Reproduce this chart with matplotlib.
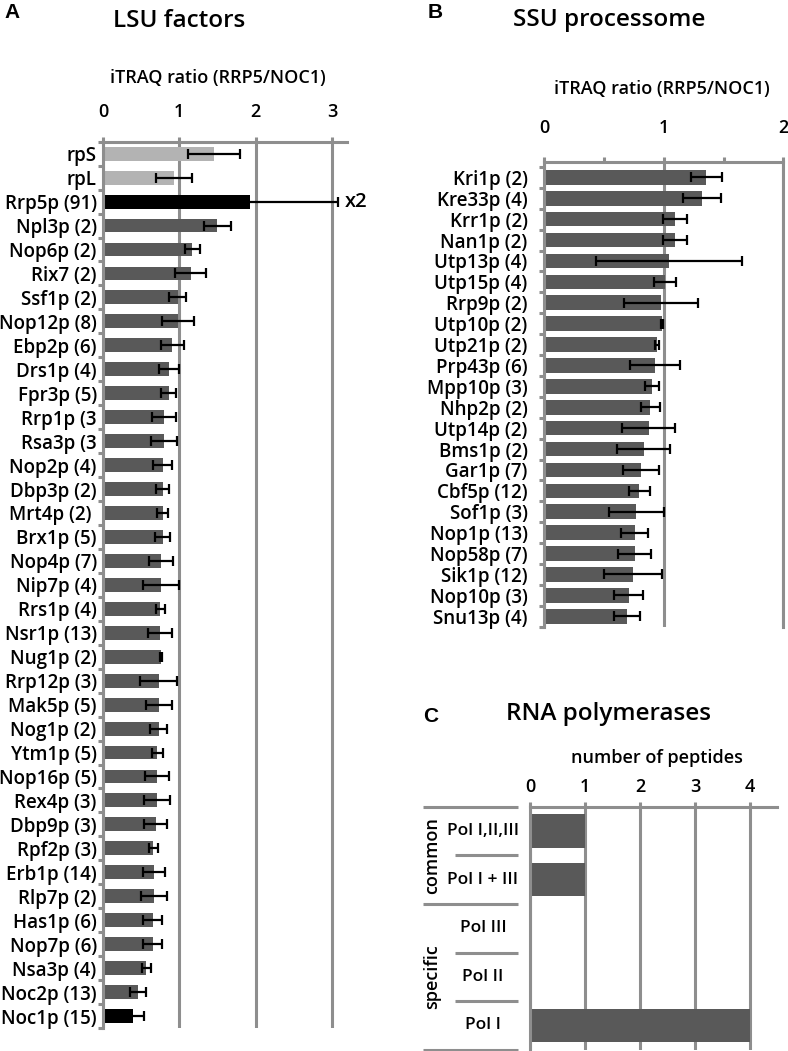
import matplotlib
matplotlib.use('Agg')
import matplotlib.pyplot as plt
import matplotlib.transforms as mtransforms

plt.rcParams['font.family'] = ['Open Sans', 'DejaVu Sans']
plt.rcParams['font.weight'] = 'semibold'

# ---------------- data ----------------
lsu_labels = ['rpS', 'rpL', 'Rrp5p (91)', 'Npl3p (2)', 'Nop6p (2)', 'Rix7 (2)', 'Ssf1p (2)',
              'Nop12p (8)', 'Ebp2p (6)', 'Drs1p (4)', 'Fpr3p (5)', 'Rrp1p (3', 'Rsa3p (3',
              'Nop2p (4)', 'Dbp3p (2)', 'Mrt4p (2) ', 'Brx1p (5)', 'Nop4p (7)', 'Nip7p (4)',
              'Rrs1p (4)', 'Nsr1p (13)', 'Nug1p (2)', 'Rrp12p (3)', 'Mak5p (5)', 'Nog1p (2)',
              'Ytm1p (5)', 'Nop16p (5)', 'Rex4p (3)', 'Dbp9p (3)', 'Rpf2p (3)', 'Erb1p (14)',
              'Rlp7p (2)', 'Has1p (6)', 'Nop7p (6)', 'Nsa3p (4)', 'Noc2p (13)', 'Noc1p (15)']
lsu_values = [1.45, 0.93, 1.93, 1.50, 1.17, 1.15, 0.98, 0.98, 0.91, 0.87, 0.86, 0.80, 0.80,
              0.78, 0.78, 0.78, 0.78, 0.76, 0.76, 0.75, 0.75, 0.76, 0.73, 0.73, 0.73, 0.71,
              0.71, 0.71, 0.69, 0.66, 0.67, 0.67, 0.65, 0.65, 0.57, 0.46, 0.39]
lsu_errors = [0.34, 0.23, 1.15, 0.18, 0.10, 0.20, 0.11, 0.21, 0.15, 0.13, 0.10, 0.16, 0.17,
              0.13, 0.09, 0.07, 0.10, 0.16, 0.24, 0.06, 0.16, 0.01, 0.24, 0.17, 0.11, 0.07,
              0.16, 0.17, 0.15, 0.06, 0.14, 0.17, 0.12, 0.12, 0.06, 0.10, 0.15]
lsu_reference = ['rpS', 'rpL']
lsu_baits = ['Rrp5p (91)', 'Noc1p (15)']
lsu_xticks = [0, 1, 2, 3]

ssu_labels = ['Kri1p (2)', 'Kre33p (4)', 'Krr1p (2)', 'Nan1p (2)', 'Utp13p (4)', 'Utp15p (4)',
              'Rrp9p (2)', 'Utp10p (2)', 'Utp21p (2)', 'Prp43p (6)', 'Mpp10p (3)', 'Nhp2p (2)',
              'Utp14p (2)', 'Bms1p (2)', 'Gar1p (7)', 'Cbf5p (12)', 'Sof1p (3)', 'Nop1p (13)',
              'Nop58p (7)', 'Sik1p (12)', 'Nop10p (3)', 'Snu13p (4)']
ssu_values = [1.356, 1.317, 1.092, 1.092, 1.042, 1.008, 0.978, 0.985, 0.944, 0.924, 0.900,
              0.888, 0.874, 0.832, 0.810, 0.795, 0.770, 0.756, 0.756, 0.742, 0.706, 0.692]
ssu_errors = [0.13, 0.16, 0.10, 0.10, 0.61, 0.09, 0.31, 0.01, 0.02, 0.21, 0.06, 0.08, 0.22,
              0.22, 0.15, 0.09, 0.23, 0.11, 0.14, 0.24, 0.12, 0.11]
ssu_xticks = [0, 1, 2]

pol_labels = ['Pol I,II,III', 'Pol I + III', 'Pol III', 'Pol II', 'Pol I']
pol_values = [1, 1, 0, 0, 4]
pol_groups = ['common', 'specific']
pol_xticks = [0, 1, 2, 3, 4]

# ---------------- style ----------------
W, H = 788, 1051
GRAY = '#8e8e8e'
DARK = '#595959'
LIGHT = '#b3b3b3'
BLACK = '#000000'
LW = 2.2
fig = plt.figure(figsize=(W / 100, H / 100), dpi=100)


def ax_px(x0, y0, x1, y1):
    return fig.add_axes([x0 / W, 1 - y1 / H, (x1 - x0) / W, (y1 - y0) / H])


def fx(px):
    return px / W


def fy(py):
    return 1 - py / H


def style_axes(ax, xticks, pad, right=False):
    ax.set_axisbelow(True)
    ax.spines['bottom'].set_visible(False)
    ax.spines['right'].set_visible(right)
    for s in ['top', 'left', 'right']:
        ax.spines[s].set_color(GRAY)
        ax.spines[s].set_linewidth(LW)
    ax.xaxis.tick_top()
    ax.set_xticks(xticks)
    ax.tick_params(axis='x', which='both', direction='out', length=3.6, width=LW,
                   color=GRAY, labelsize=13, pad=pad, bottom=False)
    ax.grid(axis='x', color=GRAY, linewidth=LW)
    ax.grid(axis='y', visible=False)


# ---------------- panel A ----------------
axA = ax_px(103, 141.7, 103 + 3.2 * 76.3, 1028)
nA = len(lsu_labels)
colA = [LIGHT if l in lsu_reference else (BLACK if l in lsu_baits else DARK) for l in lsu_labels]
axA.barh(range(nA), lsu_values, height=0.58, color=colA, zorder=2)
axA.errorbar(lsu_values, range(nA), xerr=lsu_errors, fmt='none', ecolor='black',
             elinewidth=1.6, capsize=3.6, capthick=1.6, zorder=3)
axA.set_xlim(0, 3.2)
axA.set_ylim(nA - 0.5, -0.5)
style_axes(axA, lsu_xticks, pad=11.5)
axA.set_yticks(range(nA))
axA.set_yticklabels(lsu_labels)
axA.set_yticks([i - 0.5 for i in range(nA + 1)], minor=True)
axA.tick_params(axis='y', which='major', length=0, pad=4.5, labelsize=13.5)
axA.tick_params(axis='y', which='minor', length=3.6, width=LW, color=GRAY, direction='out')
axA.text(3.17, lsu_labels.index('Rrp5p (91)'), 'x2', va='center', ha='left', fontsize=14.5,
         clip_on=False)

fig.text(fx(179.5), fy(26.7), 'LSU factors', ha='center', va='baseline', fontsize=17.5)
fig.text(fx(218), fy(83), 'iTRAQ ratio (RRP5/NOC1)', ha='center', va='baseline', fontsize=13)
fig.text(fx(4), fy(18), 'A', ha='left', va='baseline', fontsize=15, fontweight='bold',
         family=['Liberation Sans', 'DejaVu Sans'])

# ---------------- panel B ----------------
axB = ax_px(544.3, 161.7, 544.3 + 2 * 119.5, 626.7)
nB = len(ssu_labels)
axB.barh(range(nB), ssu_values, height=0.7, color=DARK, zorder=2)
axB.errorbar(ssu_values, range(nB), xerr=ssu_errors, fmt='none', ecolor='black',
             elinewidth=1.6, capsize=3.6, capthick=1.6, zorder=3)
axB.set_xlim(0, 2)
axB.set_ylim(nB - 0.5, -0.75)
style_axes(axB, ssu_xticks, pad=14, right=True)
axB.set_xticks([0.5, 1.5], minor=True)
axB.set_yticks(range(nB))
axB.set_yticklabels(ssu_labels)
axB.set_yticks([i - 0.5 for i in range(nB + 1)], minor=True)
axB.tick_params(axis='y', which='major', length=0, pad=12, labelsize=13.5)
axB.tick_params(axis='y', which='minor', length=3.6, width=LW, color=GRAY, direction='out')

fig.text(fx(609), fy(26), 'SSU processome', ha='center', va='baseline', fontsize=17.5)
fig.text(fx(661.7), fy(94), 'iTRAQ ratio (RRP5/NOC1)', ha='center', va='baseline', fontsize=13)
fig.text(fx(428), fy(18), 'B', ha='left', va='baseline', fontsize=15, fontweight='bold',
         family=['Liberation Sans', 'DejaVu Sans'])

# ---------------- panel C ----------------
axC = ax_px(530, 806.7, 530 + 4.5 * 55, 1049.7)
nC = len(pol_labels)
axC.barh(range(nC), pol_values, height=0.68, color=DARK, zorder=2)
axC.set_xlim(0, 4.5)
axC.set_ylim(nC - 0.5, -0.5)
style_axes(axC, pol_xticks, pad=4.3)
axC.set_yticks([])
trC = mtransforms.blended_transform_factory(fig.transFigure, axC.transData)
for i, lab in enumerate(pol_labels):
    axC.text(fx(483), i, lab, transform=trC, ha='center', va='center', fontsize=12.5)
full_rows = [-0.5, 1.5, 4.5]
short_rows = [0.5, 2.5, 3.5]
for r in full_rows:
    axC.plot([fx(423), fx(518)], [r, r], transform=trC, color=GRAY, lw=LW, clip_on=False,
             solid_capstyle='butt')
for r in short_rows:
    axC.plot([fx(455), fx(518)], [r, r], transform=trC, color=GRAY, lw=LW, clip_on=False,
             solid_capstyle='butt')
axC.text(fx(431.7), 0.5, pol_groups[0], transform=trC, rotation=90, ha='center', va='center',
         fontsize=13)
axC.text(fx(431.7), 3.0, pol_groups[1], transform=trC, rotation=90, ha='center', va='center',
         fontsize=13)

fig.text(fx(608), fy(720), 'RNA polymerases', ha='center', va='baseline', fontsize=17.5)
fig.text(fx(656.7), fy(763), 'number of peptides', ha='center', va='baseline', fontsize=13)
fig.text(fx(423), fy(721.7), 'C', ha='left', va='baseline', fontsize=15, fontweight='bold',
         family=['Liberation Sans', 'DejaVu Sans'])

fig.savefig('out.png', dpi=100)
